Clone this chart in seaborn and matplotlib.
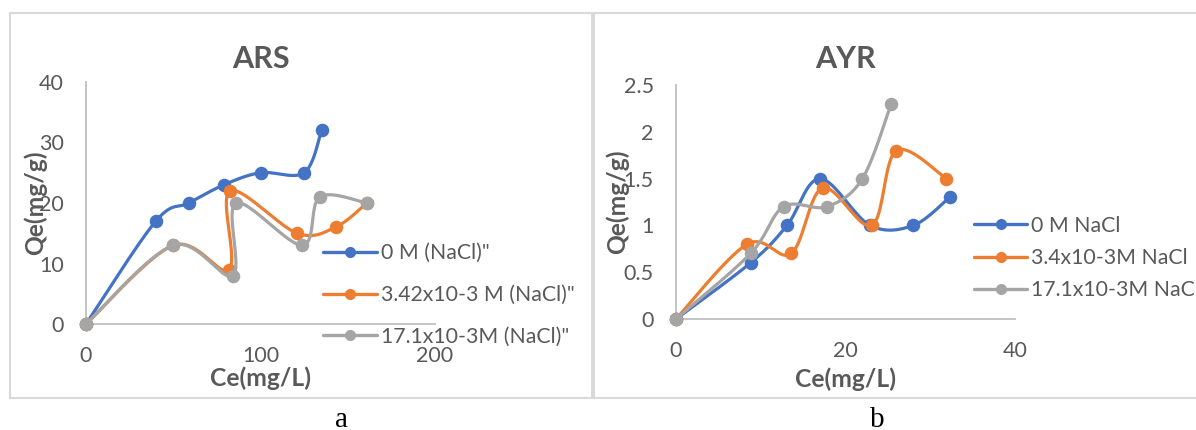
import numpy as np
import matplotlib
matplotlib.use("Agg")
import matplotlib.pyplot as plt
import seaborn as sns
from matplotlib.lines import Line2D
from matplotlib.patches import Rectangle

# ---- ARS adsorption data ----
ars_ce_0 = [0, 40, 59, 79, 100, 125, 135]
ars_qe_0 = [0, 17, 20, 23, 25, 25, 32]
ars_ce_342 = [0, 50, 82, 82.5, 121, 143, 161]
ars_qe_342 = [0, 13, 9, 22, 15, 16, 20]
ars_ce_171 = [0, 50, 84, 86, 124, 134, 161]
ars_qe_171 = [0, 13, 8, 20, 13, 21, 20]
ars_labels = ['0 M (NaCl)"', '3.42x10-3 M (NaCl)"', '17.1x10-3M (NaCl)"']

# ---- AYR adsorption data ----
ayr_ce_0 = [0, 8.8, 13.1, 17.0, 22.9, 28.0, 32.3]
ayr_qe_0 = [0, 0.6, 1.0, 1.5, 1.0, 1.0, 1.3]
ayr_ce_34 = [0, 8.4, 13.6, 17.3, 23.1, 26.0, 31.9]
ayr_qe_34 = [0, 0.8, 0.7, 1.4, 1.0, 1.8, 1.5]
ayr_ce_171 = [0, 8.8, 12.7, 17.8, 22.0, 25.4]
ayr_qe_171 = [0, 0.7, 1.2, 1.2, 1.5, 2.3]
ayr_labels = ["0 M NaCl", "3.4x10-3M NaCl", "17.1x10-3M NaCl"]

ars_xticks = [0, 100, 200]
ars_yticks = [0, 10, 20, 30, 40]
ayr_xticks = [0, 20, 40]
ayr_yticks = [0, 0.5, 1, 1.5, 2, 2.5]

COLORS = ["#4472C4", "#ED7D31", "#A5A5A5"]
TXT = "#595959"
AXLINE = "#BFBFBF"
FONT = ["Lato", "DejaVu Sans"]
LEGEND_SIZE = 15.3

sns.set_theme(style="white")
plt.rcParams["font.family"] = FONT

W, H = 1196, 430
fig = plt.figure(figsize=(W / 100, H / 100), dpi=100)
fig.patch.set_facecolor("white")


def fig_rect(x0, y_top, x1, y_bottom):
    """Pixel box -> figure fraction [left, bottom, width, height]."""
    return [x0 / W, 1 - y_bottom / H, (x1 - x0) / W, (y_bottom - y_top) / H]


def smooth_path(xs, ys, ax, n=40):
    """Bezier smoothing (Catmull-Rom style) computed in display space."""
    pts = ax.transData.transform(np.column_stack([xs, ys]))
    m = len(pts)
    ext = np.vstack([pts[0], pts, pts[-1]])
    out = [pts[0]]
    t = np.linspace(0, 1, n)[1:, None]
    for i in range(m - 1):
        p_prev, p0, p1, p_next = ext[i], ext[i + 1], ext[i + 2], ext[i + 3]
        c1 = p0 + (p1 - p_prev) / 6.0
        c2 = p1 - (p_next - p0) / 6.0
        seg = ((1 - t) ** 3) * p0 + 3 * ((1 - t) ** 2) * t * c1 \
            + 3 * (1 - t) * t ** 2 * c2 + t ** 3 * p1
        out.extend(seg)
    out = ax.transData.inverted().transform(np.array(out))
    return out[:, 0], out[:, 1]


def setup_axes(ax, xlim, ylim, xticks, yticks, title, title_pad, xlab_y, ylab_x):
    ax.set_xlim(*xlim)
    ax.set_ylim(*ylim)
    ax.set_xticks(xticks)
    ax.set_yticks(yticks)
    ax.set_xticklabels([f"{v:g}" for v in xticks])
    ax.set_yticklabels([f"{v:g}" for v in yticks])
    for s in ["top", "right"]:
        ax.spines[s].set_visible(False)
    for s in ["left", "bottom"]:
        ax.spines[s].set_color(AXLINE)
        ax.spines[s].set_linewidth(1.3)
    ax.tick_params(axis="both", length=0, labelsize=15.5, colors=TXT)
    ax.tick_params(axis="y", pad=16)
    ax.tick_params(axis="x", pad=16)
    ax.set_xlabel("Ce(mg/L)", fontsize=17.7, fontweight="bold", color=TXT)
    ax.set_ylabel("Qe(mg/g)", fontsize=17.7, fontweight="bold", color=TXT)
    ax.xaxis.set_label_coords(0.5, xlab_y)
    ax.yaxis.set_label_coords(ylab_x, 0.5)
    ax.set_title(title, fontsize=22, fontweight="bold", color=TXT, pad=title_pad)
    ax.patch.set_alpha(0)
    ax.grid(False)


def draw_series(ax, series):
    for k, ((xs, ys), color) in enumerate(zip(series, COLORS)):
        sx, sy = smooth_path(xs, ys, ax)
        sns.lineplot(x=sx, y=sy, ax=ax, sort=False, estimator=None, color=color,
                     linewidth=2.3, zorder=3 + 2 * k, legend=False)
        sns.scatterplot(x=xs, y=ys, ax=ax, color=color, s=95, linewidth=0,
                        zorder=4 + 2 * k, legend=False, clip_on=False)
    for ln in ax.lines:
        ln.set_clip_on(False)
    return [Line2D([0], [0], color=c, lw=2.4, marker="o", markersize=8,
                   markeredgewidth=0) for c in COLORS]


# ---- panel a: ARS ----
ax1 = fig.add_axes(fig_rect(86, 82, 435, 324))
setup_axes(ax1, (0, 200), (0, 40), ars_xticks, ars_yticks, "ARS",
           title_pad=10, xlab_y=-0.177, ylab_x=-0.11)
h1 = draw_series(ax1, [(ars_ce_0, ars_qe_0), (ars_ce_342, ars_qe_342),
                       (ars_ce_171, ars_qe_171)])
fig.legend(h1, ars_labels, loc="center left", bbox_to_anchor=(323 / W, 1 - 295 / H),
           frameon=False, fontsize=LEGEND_SIZE, labelcolor=TXT, handlelength=2.54,
           handletextpad=0.19, borderpad=0, borderaxespad=0, labelspacing=1.02)

# ---- panel b: AYR ----
ax2 = fig.add_axes(fig_rect(676, 85, 1015, 319))
setup_axes(ax2, (0, 40), (0, 2.5), ayr_xticks, ayr_yticks, "AYR",
           title_pad=12, xlab_y=-0.205, ylab_x=-0.138)
h2 = draw_series(ax2, [(ayr_ce_0, ayr_qe_0), (ayr_ce_34, ayr_qe_34),
                       (ayr_ce_171, ayr_qe_171)])
fig.legend(h2, ayr_labels, loc="center left", bbox_to_anchor=(974 / W, 1 - 258 / H),
           frameon=False, fontsize=LEGEND_SIZE, labelcolor=TXT, handlelength=2.5,
           handletextpad=0.19, borderpad=0, borderaxespad=0, labelspacing=0.58)

# ---- panel frames ----
BORDER = "#D9D9D9"
fig.add_artist(Rectangle((10 / W, 1 - 398 / H), (593 - 10) / W, (398 - 13) / H,
                         transform=fig.transFigure, fill=False, edgecolor=BORDER,
                         linewidth=1.5, zorder=0))
fig.add_artist(Rectangle((594 / W, 1 - 398 / H), (1210 - 594) / W, (398 - 13) / H,
                         transform=fig.transFigure, fill=False, edgecolor=BORDER,
                         linewidth=1.5, zorder=0))
fig.add_artist(Rectangle((591 / W, 1 - 398 / H), 4 / W, (398 - 13) / H,
                         transform=fig.transFigure, facecolor=BORDER,
                         edgecolor="none", zorder=0))

# ---- panel letters ----
SERIF = ["Liberation Serif", "DejaVu Serif"]
fig.text(341 / W, 1 - 427 / H, "a", ha="center", va="baseline", fontsize=21,
         family=SERIF, color="black")
fig.text(877 / W, 1 - 427 / H, "b", ha="center", va="baseline", fontsize=21,
         family=SERIF, color="black")

fig.savefig("out.png", dpi=100, facecolor="white")
